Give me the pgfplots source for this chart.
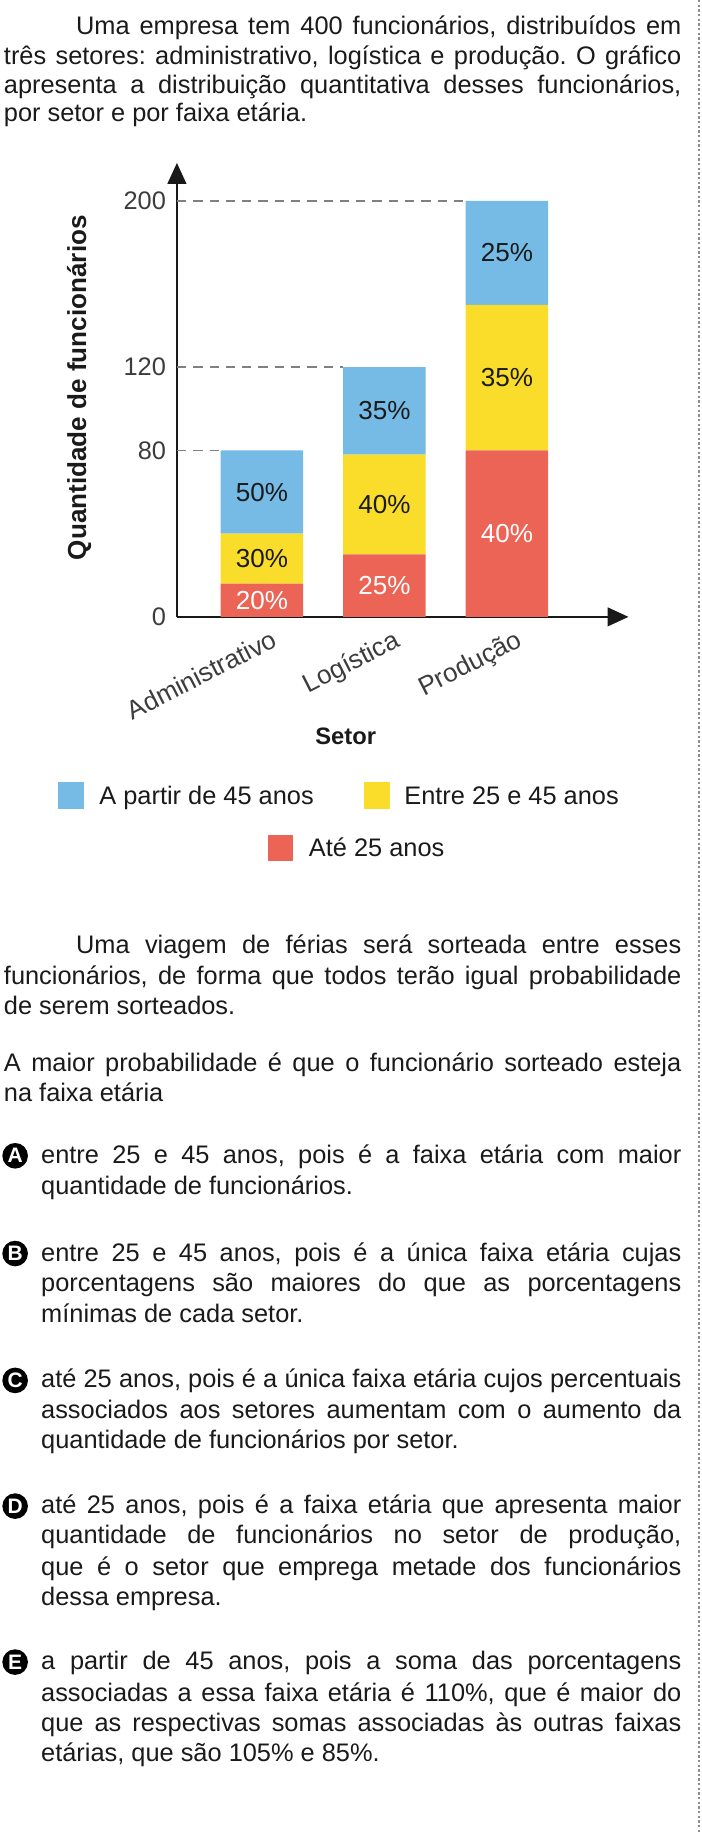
\documentclass[border=0pt]{standalone}
\usepackage{fontspec}
\setmainfont{Liberation Sans}
\usepackage{pgfplots}
\pgfplotsset{compat=1.18}
\usetikzlibrary{arrows.meta}
\frenchspacing

\definecolor{cBlue}{RGB}{117,187,230}
\definecolor{cYel}{RGB}{250,221,42}
\definecolor{cRed}{RGB}{236,100,86}
\definecolor{txt}{RGB}{26,26,26}

\newcommand\bodyfont{\fontsize{10.9pt}{13pt}\selectfont}
\tikzset{
  pct/.style={font=\fontsize{11.2pt}{13pt}\selectfont, text=txt},
  txtline/.style={anchor=base west, inner sep=0pt, font=\bodyfont, text=txt},
}
% justified line from x=#1 to the right margin (585), baseline at y=#2
\newcommand\jl[3]{\node[txtline] at (#1,-#2) {\makebox[\dimexpr292.5pt-#1pt/2\relax][s]{#3}};}
% last (ragged) line of a paragraph
\newcommand\rl[3]{\node[txtline] at (#1,-#2) {#3};}
% circled option letter
\newcommand\opt[2]{\node[circle,fill=black,text=white,inner sep=0pt,minimum size=11pt,font=\fontsize{9pt}{9pt}\selectfont\bfseries] at (13,-#2) {#1};}

\begin{document}
\begin{tikzpicture}[x=0.5pt,y=0.5pt]
\useasboundingbox (0,0) rectangle (603,-1574);
\draw[black!45, line width=1pt, dash pattern=on 1pt off 1pt] (600.5,0) -- (600.5,-1574);

% first paragraph
\jl{65}{29.5}{Uma empresa tem 400 funcionários, distribuídos em}
\jl{3}{55}{três setores: administrativo, logística e produção. O gráfico}
\jl{3}{80}{apresenta a distribuição quantitativa desses funcionários,}
\rl{3}{104.5}{por setor e por faixa etária.}

\begin{axis}[
  at={(76pt,-265pt)}, anchor=south west,
  scale only axis,
  x=52.625pt, y=0.89375pt,
  xmin=-0.6936, xmax=2.993, ymin=0, ymax=218.2,
  axis x line=bottom, axis y line=left,
  axis line style={line width=1pt, black!90, -{Triangle[length=9pt,width=8pt]}},
  ybar stacked, bar width=35.5pt,
  ytick={0,80,120,200}, xtick={0,1,2},
  xticklabels={Administrativo,Logística,Produção},
  major tick length=0pt,
  tick label style={font=\bodyfont, text=txt!85},
  yticklabel style={inner sep=0pt, xshift=-4.5pt},
  xticklabel style={rotate=27, anchor=north east, inner sep=0pt, xshift=1pt, yshift=-6pt,
    font=\fontsize{11.2pt}{13pt}\selectfont},
  /pgf/number format/assume math mode=true,
  xlabel={Setor}, ylabel={Quantidade de funcionários},
  xlabel style={at={(axis description cs:0.3737,-0.264)}, anchor=center, text=txt,
    font=\bfseries\fontsize{10.2pt}{12pt}\selectfont},
  ylabel style={at={(axis description cs:-0.2165,0.505)}, anchor=center, text=txt,
    font=\bfseries\fontsize{11.2pt}{13pt}\selectfont},
  clip=false,
]
% Até 25 anos
\addplot[fill=cRed, draw=none] coordinates {(0,16) (1,30) (2,80)};
% Entre 25 e 45 anos
\addplot[fill=cYel, draw=none] coordinates {(0,24) (1,48) (2,70)};
% A partir de 45 anos
\addplot[fill=cBlue, draw=none] coordinates {(0,40) (1,42) (2,50)};

% guide lines to the bar tops
\draw[black!50, line width=0.7pt, dash pattern=on 4pt off 3pt] (axis cs:-0.6936,200) -- (axis cs:1.6625,200);
\draw[black!50, line width=0.7pt, dash pattern=on 4pt off 3pt] (axis cs:-0.6936,120) -- (axis cs:0.6625,120);
\draw[black!50, line width=0.7pt, dash pattern=on 4pt off 3pt] (axis cs:-0.6936,80) -- (axis cs:-0.3375,80);

% middle of every segment, labelled after the axis
\coordinate (a1) at (axis cs:0,8);
\coordinate (a2) at (axis cs:0,28);
\coordinate (a3) at (axis cs:0,60);
\coordinate (b1) at (axis cs:1,15);
\coordinate (b2) at (axis cs:1,54);
\coordinate (b3) at (axis cs:1,99);
\coordinate (c1) at (axis cs:2,40);
\coordinate (c2) at (axis cs:2,115);
\coordinate (c3) at (axis cs:2,175);
\end{axis}

\node[pct, text=white] at (a1) {20\%};
\node[pct] at (a2) {30\%};
\node[pct] at (a3) {50\%};
\node[pct, text=white] at (b1) {25\%};
\node[pct] at (b2) {40\%};
\node[pct] at (b3) {35\%};
\node[pct, text=white] at (c1) {40\%};
\node[pct] at (c2) {35\%};
\node[pct] at (c3) {25\%};

% legend
\fill[cBlue] (50,-672) rectangle (72,-695);
\rl{85}{691}{A partir de 45 anos}
\fill[cYel] (313,-672) rectangle (335,-695);
\rl{347}{691}{Entre 25 e 45 anos}
\fill[cRed] (230,-717) rectangle (252,-740);
\rl{265}{736}{Até 25 anos}

% second paragraph
\jl{65}{819.5}{Uma viagem de férias será sorteada entre esses}
\jl{3}{846}{funcionários, de forma que todos terão igual probabilidade}
\rl{3}{871.5}{de serem sorteados.}

\jl{3}{920.5}{A maior probabilidade é que o funcionário sorteado esteja}
\rl{3}{946.5}{na faixa etária}

% options
\opt{A}{993}
\jl{35}{999.5}{entre 25 e 45 anos, pois é a faixa etária com maior}
\rl{35}{1026.5}{quantidade de funcionários.}

\opt{B}{1077}
\jl{35}{1083.5}{entre 25 e 45 anos, pois é a única faixa etária cujas}
\jl{35}{1109.5}{porcentagens são maiores do que as porcentagens}
\rl{35}{1136.5}{mínimas de cada setor.}

\opt{C}{1186}
\jl{35}{1192.5}{até 25 anos, pois é a única faixa etária cujos percentuais}
\jl{35}{1218.5}{associados aos setores aumentam com o aumento da}
\rl{35}{1244.5}{quantidade de funcionários por setor.}

\opt{D}{1294}
\jl{35}{1300.5}{até 25 anos, pois é a faixa etária que apresenta maior}
\jl{35}{1326.5}{quantidade de funcionários no setor de produção,}
\jl{35}{1353.5}{que é o setor que emprega metade dos funcionários}
\rl{35}{1379.5}{dessa empresa.}

\opt{E}{1428}
\jl{35}{1434.5}{a partir de 45 anos, pois a soma das porcentagens}
\jl{35}{1461.5}{associadas a essa faixa etária é 110\%, que é maior do}
\jl{35}{1487.5}{que as respectivas somas associadas às outras faixas}
\rl{35}{1513.5}{etárias, que são 105\% e 85\%.}
\end{tikzpicture}
\end{document}
